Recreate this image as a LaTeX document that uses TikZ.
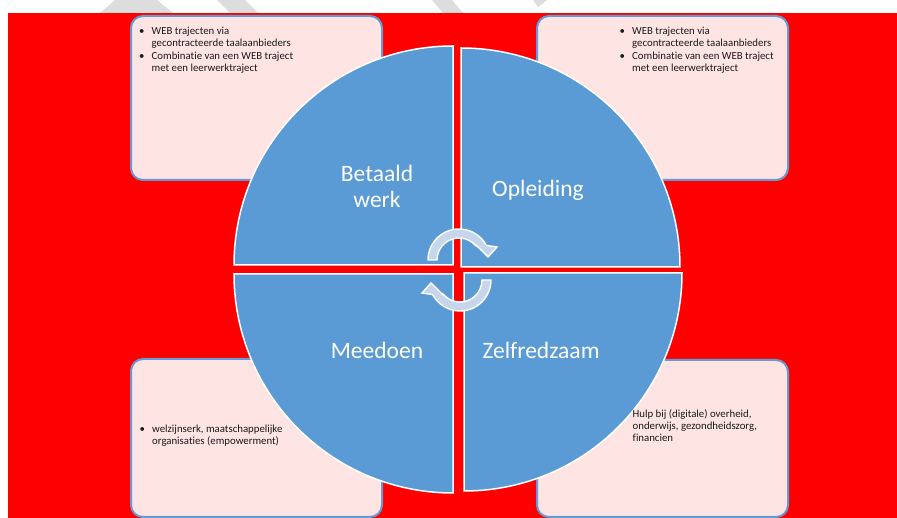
\documentclass[tikz,border=0pt]{standalone}
\usepackage{fontspec}
\setmainfont{Carlito}[Ligatures=NoCommon]
\definecolor{bgred}{RGB}{255,0,0}
\definecolor{qblue}{RGB}{91,155,213}
\definecolor{boxfill}{RGB}{255,228,228}
\definecolor{boxline}{RGB}{100,155,215}
\definecolor{arrblue}{RGB}{197,214,237}
\definecolor{wmgray}{RGB}{221,221,221}
\definecolor{txtdark}{RGB}{25,25,25}
\newcommand\bul{\makebox[12.5pt][l]{\textbullet}}
\newcommand\ind{\hspace*{12.5pt}}
\tikzset{
  infobox/.style={fill=boxfill, draw=boxline, line width=2pt, rounded corners=12pt},
  quad/.style={fill=qblue, draw=white, line width=1.5pt},
  cyclearrow/.style={fill=arrblue, draw=white, line width=1.4pt, line join=miter},
  lbl/.style={text=white, font=\fontsize{23.5}{26}\selectfont, align=center, inner sep=0pt},
  boxtxt/.style={text=txtdark, font=\fontsize{10.8}{12.3}\selectfont, align=left, inner sep=0pt, anchor=north west}
}
\begin{document}
\begin{tikzpicture}[x=1pt,y=1pt]
\fill[white] (0,0) rectangle (897,518);
\useasboundingbox (0,0) rectangle (897,518);
% faint watermark strokes in the top strip
\fill[wmgray] (115,518) -- (157,518) -- (173,505) -- (100,505) -- cycle;
\fill[wmgray] (217,518) -- (245,518) -- (258,505) -- (230,505) -- cycle;
\fill[wmgray] (432,518) -- (452,518) -- (463,505) -- (443,505) -- cycle;
\fill[wmgray] (533,518) -- (547,518) -- (538,511) -- cycle;
% red background
\fill[bgred] (8,0) rectangle (897,505);
% info boxes
\draw[infobox] (131,338) rectangle (382,502);
\draw[infobox] (537,338) rectangle (788,502);
\draw[infobox] (131,1) rectangle (382,159);
\draw[infobox] (537,1) rectangle (788,158);
% quadrants
\draw[quad] (453,253) -- (234,253) arc[start angle=180,end angle=90,radius=219] -- cycle;
\draw[quad] (461,251) -- (461,470) arc[start angle=90,end angle=0,radius=219] -- cycle;
\draw[quad] (453,244) -- (234,244) arc[start angle=180,end angle=270,radius=219] -- cycle;
\draw[quad] (464,245) -- (682,245) arc[start angle=0,end angle=-90,radius=218] -- cycle;
% cycle arrows
\begin{scope}[shift={(459,258)}]
\draw[cyclearrow] (180:22) -- (180:31) arc[start angle=180,end angle=28,radius=31] -- (38,13) -- (29,3) -- (17,15) -- (40:22) arc[start angle=40,end angle=180,radius=22] -- cycle;
\end{scope}
\begin{scope}[shift={(460,238)},rotate=180]
\draw[cyclearrow] (180:22) -- (180:31) arc[start angle=180,end angle=28,radius=31] -- (38,13) -- (29,3) -- (17,15) -- (40:22) arc[start angle=40,end angle=180,radius=22] -- cycle;
\end{scope}
% quadrant labels
\node[lbl] (betaald) at (377,332) {Betaald\\werk};
\node[lbl] (opleiding) at (538,328) {Opleiding};
\node[lbl] (meedoen) at (377,168) {Meedoen};
\node[lbl] (zelfredzaam) at (541,168) {Zelfredzaam};
% box texts
\node[boxtxt] (tltxt) at (139,491) {\bul WEB trajecten via\\\ind gecontracteerde taalaanbieders\\\bul Combinatie van een WEB traject\\\ind met een leerwerktraject};
\node[boxtxt] (trtxt) at (619.5,491) {\bul WEB trajecten via\\\ind gecontracteerde taalaanbieders\\\bul Combinatie van een WEB traject\\\ind met een leerwerktraject};
\node[boxtxt] (bltxt) at (139.5,93) {\bul welzijnserk, maatschappelijke\\\ind organisaties (empowerment)};
\node[boxtxt] (brtxt) at (632.5,109) {Hulp bij (digitale) overheid,\\onderwijs, gezondheidszorg,\\financien};
\end{tikzpicture}
\end{document}
